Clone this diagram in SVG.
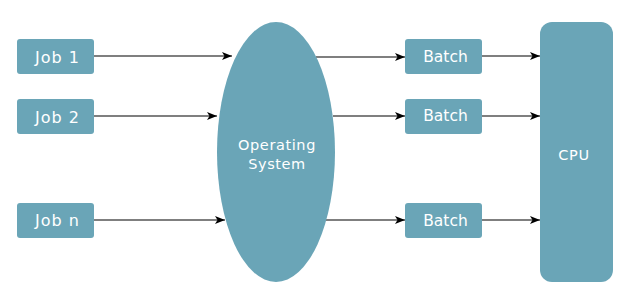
<svg xmlns="http://www.w3.org/2000/svg" width="628" height="299" viewBox="0 0 628 299">
<style>
.box{fill:#6aa5b7}
.t{fill:#ffffff;font-family:"DejaVu Sans","Liberation Sans",sans-serif;text-anchor:middle}
.j{font-size:16px;letter-spacing:1px}
.b{font-size:15.5px}
.o{font-size:14.5px;letter-spacing:0.6px}
.c{stroke:#000;stroke-width:1.2;fill:none;marker-end:url(#ah)}
</style>
<defs>
<marker id="ah" markerWidth="10" markerHeight="8" refX="10" refY="4" orient="auto" markerUnits="userSpaceOnUse">
<path d="M0,0 L10,4 L0,8 L2.5,4 Z" fill="#000"/>
</marker>
</defs>
<rect width="628" height="299" fill="#fff"/>
<g id="connectors">
<line class="c" x1="94" y1="56" x2="232" y2="56"/>
<line class="c" x1="94" y1="116" x2="217" y2="116"/>
<line class="c" x1="94" y1="220" x2="225" y2="220"/>
<line class="c" x1="316" y1="57" x2="405" y2="57"/>
<line class="c" x1="333" y1="116" x2="405" y2="116"/>
<line class="c" x1="326" y1="220" x2="405" y2="220"/>
<line class="c" x1="482" y1="56" x2="540" y2="56"/>
<line class="c" x1="482" y1="116" x2="540" y2="116"/>
<line class="c" x1="482" y1="220" x2="540" y2="220"/>
</g>
<g id="job1"><rect class="box" x="17" y="39" width="77" height="35" rx="3"/><text class="t j" x="57.5" y="63">Job 1</text></g>
<g id="job2"><rect class="box" x="17" y="99" width="77" height="35" rx="3"/><text class="t j" x="57.5" y="122.5">Job 2</text></g>
<g id="jobn"><rect class="box" x="17" y="203" width="77" height="35" rx="3"/><text class="t j" x="57.5" y="225.5">Job n</text></g>
<g id="os"><ellipse class="box" cx="276" cy="152" rx="59" ry="130"/><text class="t o" x="277" y="150">Operating</text><text class="t o" x="277" y="169">System</text></g>
<g id="batch1"><rect class="box" x="405" y="39" width="77" height="35" rx="3"/><text class="t b" x="445.5" y="61.5">Batch</text></g>
<g id="batch2"><rect class="box" x="405" y="99" width="77" height="35" rx="3"/><text class="t b" x="445.5" y="121">Batch</text></g>
<g id="batch3"><rect class="box" x="405" y="203" width="77" height="35" rx="3"/><text class="t b" x="445.5" y="225.5">Batch</text></g>
<g id="cpu"><rect class="box" x="540" y="22" width="73" height="260" rx="12"/><text class="t o" x="574" y="160">CPU</text></g>
</svg>
